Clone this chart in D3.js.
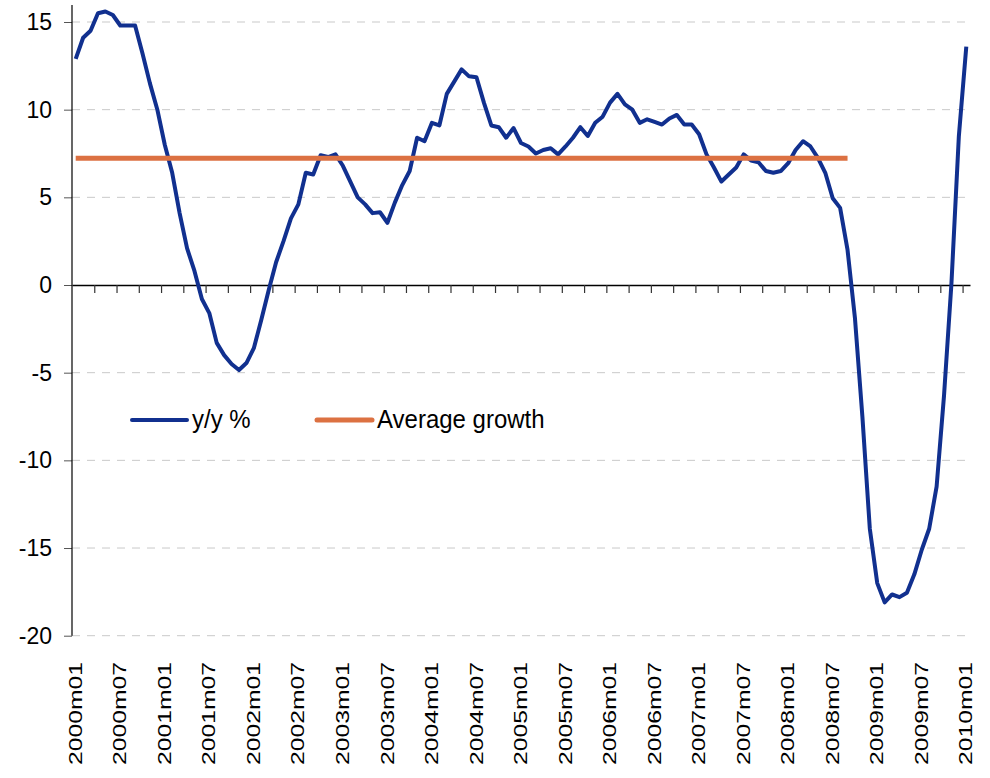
<!DOCTYPE html>
<html>
<head>
<meta charset="utf-8">
<script src="https://cdn.jsdelivr.net/npm/d3@7"></script>
<style>
  body { margin: 0; background: #fff; }
  svg { display: block; font-family: "Liberation Sans", Arial, sans-serif; }
</style>
</head>
<body>
<svg id="chart" width="990" height="778"></svg>
<script>
// monthly categories 2000m01 .. 2010m01
const years = d3.range(2000, 2011);
const months = years.flatMap((yr) =>
  d3.range(1, 13).map((m) => `${yr}m${String(m).padStart(2, "0")}`)
).slice(0, 121);

// y/y % growth
const yoy = [
  12.9, 14.1, 14.5, 15.5, 15.6, 15.4, 14.8, 14.8, 14.8, 13.2, 11.5, 10.0,
  8.0, 6.4, 4.1, 2.1, 0.8, -0.8, -1.6, -3.3, -4.0, -4.5, -4.85, -4.45,
  -3.6, -2.0, -0.3, 1.3, 2.5, 3.8, 4.6, 6.4, 6.3, 7.4, 7.3, 7.45,
  6.8, 5.9, 5.0, 4.6, 4.1, 4.15, 3.55, 4.7, 5.7, 6.5, 8.4, 8.2,
  9.25, 9.1, 10.9, 11.6, 12.3, 11.9, 11.85, 10.4, 9.1, 9.0, 8.4, 8.95,
  8.1, 7.9, 7.5, 7.7, 7.8, 7.45, 7.9, 8.4, 9.0, 8.5, 9.25, 9.6,
  10.4, 10.9, 10.3, 10.0, 9.25, 9.45, 9.3, 9.15, 9.5, 9.7, 9.15, 9.15,
  8.6, 7.45, 6.7, 5.9, 6.3, 6.7, 7.45, 7.1, 7.0, 6.5, 6.4, 6.5,
  6.95, 7.7, 8.2, 7.9, 7.25, 6.4, 4.95, 4.4, 2.0, -1.9, -7.5, -13.9,
  -17.0, -18.1, -17.65, -17.8, -17.55, -16.5, -15.1, -13.9, -11.5, -6.3, 0.1, 8.5,
  13.6
];

// average growth, flat through 2008m09
const avgValue = 7.23;
const avgEnd = "2008m09";
const avgGrowth = months.slice(0, months.indexOf(avgEnd) + 1).map(() => avgValue);

const yTicks = [15, 10, 5, 0, -5, -10, -15, -20];
const tickLabels = [
  "2000m01", "2000m07", "2001m01", "2001m07", "2002m01", "2002m07",
  "2003m01", "2003m07", "2004m01", "2004m07", "2005m01", "2005m07",
  "2006m01", "2006m07", "2007m01", "2007m07", "2008m01", "2008m07",
  "2009m01", "2009m07", "2010m01"
];

const BLUE = "#11308f";
const ORANGE = "#dc7142";

const svg = d3.select("#chart");
const x = d3.scaleLinear().domain([0, months.length]).range([72, 970]);
const y = d3.scaleLinear().domain([-20, 15]).range([635.7, 22]);

// dashed gridlines
svg.append("g")
  .selectAll("line")
  .data(yTicks.filter((v) => v !== 0))
  .join("line")
  .attr("x1", 72)
  .attr("x2", 970)
  .attr("y1", (d) => y(d))
  .attr("y2", (d) => y(d))
  .attr("stroke", "#c9c9c9")
  .attr("stroke-width", 1)
  .attr("stroke-dasharray", "8,7");

// y axis
const yAxis = svg.append("g")
  .attr("transform", "translate(72,0)")
  .call(d3.axisLeft(y).tickValues(yTicks).tickSize(8).tickPadding(12).tickFormat((d) => String(d)));
yAxis.select(".domain").remove();
yAxis.selectAll(".tick line").attr("stroke", "#555");
yAxis.selectAll("text").attr("font-size", 23).attr("fill", "#000").attr("font-family", "Liberation Sans, Arial, sans-serif");
svg.append("line")
  .attr("x1", 72).attr("x2", 72)
  .attr("y1", 5).attr("y2", y(-20))
  .attr("stroke", "#000").attr("stroke-width", 1.2);

// category axis along zero, tick every 3 months
const xAxis = svg.append("g")
  .attr("transform", `translate(0,${y(0)})`)
  .call(d3.axisBottom(x).tickValues(d3.range(3, 121, 3)).tickSize(8).tickSizeOuter(0).tickFormat(""));
xAxis.select(".domain").attr("stroke", "#000").attr("stroke-width", 1.5);
xAxis.selectAll(".tick line").attr("stroke", "#333").attr("stroke-width", 1.2);

// rotated month labels
svg.append("g")
  .selectAll("text")
  .data(tickLabels)
  .join("text")
  .attr("transform", (d) => `translate(${x(months.indexOf(d) + 0.5)},662) rotate(-90)`)
  .attr("text-anchor", "end")
  .attr("dy", "0.35em")
  .attr("font-size", 17.5)
  .attr("textLength", 103)
  .attr("lengthAdjust", "spacingAndGlyphs")
  .attr("fill", "#000")
  .text((d) => d);

const line = d3.line()
  .x((d, i) => x(i + 0.5))
  .y((d) => y(d));

svg.append("path")
  .datum(yoy)
  .attr("d", line)
  .attr("fill", "none")
  .attr("stroke", BLUE)
  .attr("stroke-width", 4)
  .attr("stroke-linejoin", "round");

svg.append("path")
  .datum(avgGrowth)
  .attr("d", line)
  .attr("fill", "none")
  .attr("stroke", ORANGE)
  .attr("stroke-width", 5);

// legend
const legend = [
  { label: "y/y %", color: BLUE, width: 4, x: 132 },
  { label: "Average growth", color: ORANGE, width: 5, x: 317 }
];
const lg = svg.append("g")
  .selectAll("g")
  .data(legend)
  .join("g")
  .attr("transform", (d) => `translate(${d.x},420)`);
lg.append("line")
  .attr("x1", 0).attr("x2", 55)
  .attr("stroke", (d) => d.color)
  .attr("stroke-width", (d) => d.width)
  .attr("stroke-linecap", "round");
lg.append("text")
  .attr("x", 60)
  .attr("y", 7)
  .attr("font-size", 24)
  .attr("transform", "scale(1,1.08)")
  .attr("fill", "#000")
  .text((d) => d.label);
</script>
</body>
</html>
